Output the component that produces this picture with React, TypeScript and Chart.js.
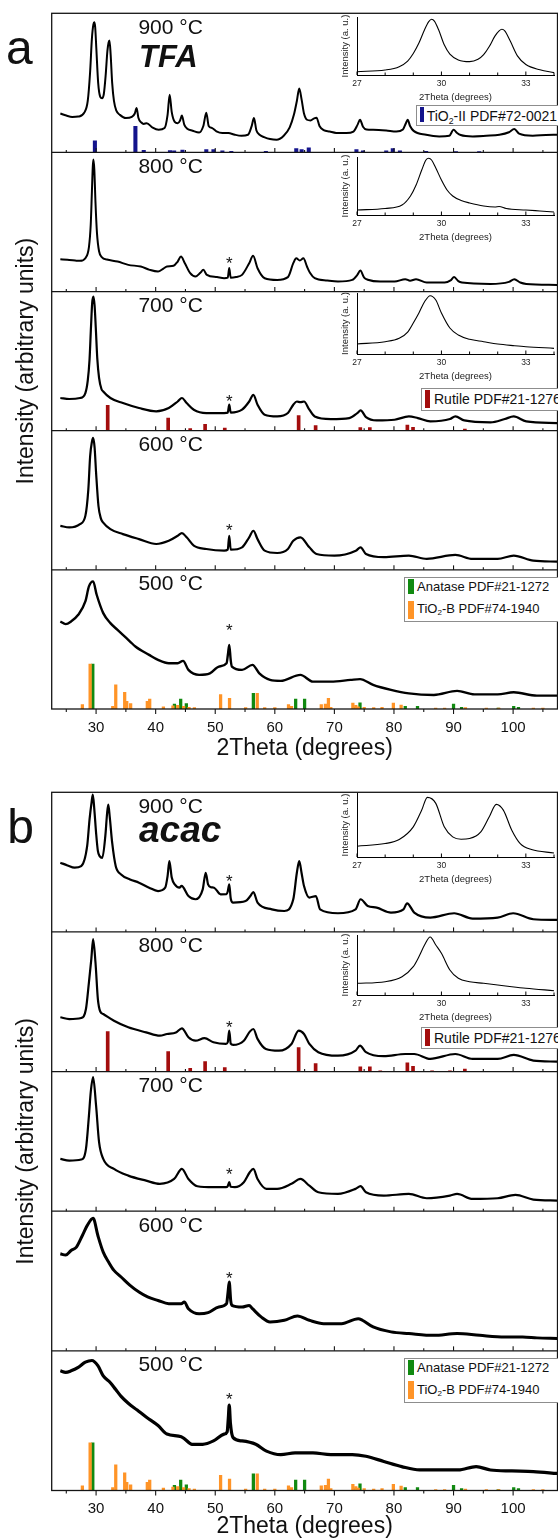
import React, { useEffect, useRef } from 'react';
import { Chart, registerables } from 'chart.js';
Chart.register(...registerables);

const FONT = "'Liberation Sans', Arial, Helvetica, sans-serif";

// ---------- axes ----------
const X_MIN = 22.55;
const X_MAX = 107.45;
const xMajorTicks = [30, 40, 50, 60, 70, 80, 90, 100];
const xMinorTicks = [25, 35, 45, 55, 65, 75, 85, 95, 105];
const temperatureLabels = ['500 °C', '600 °C', '700 °C', '800 °C', '900 °C'];
const insetTicks = [27, 28, 29, 30, 31, 32, 33, 34];
const insetLabelled = [27, 30, 33];

// ---------- TFA patterns (2theta, intensity in % of panel height) ----------
const tfa900: [number, number][] = [
  [24.0, 28], [25.0, 26.5], [26.0, 25.5], [27.0, 25.8], [28.0, 28.5], [28.6, 37], [29.0, 58], [29.3, 82], [29.55, 92], [29.7, 93.5],
  [29.85, 90], [30.05, 74], [30.35, 50], [30.7, 40], [31.0, 39], [31.3, 42], [31.6, 55], [31.9, 73], [32.1, 79], [32.25, 80.5],
  [32.45, 70], [32.7, 50], [33.0, 37], [33.4, 30], [34.0, 27], [35.0, 24.7], [36.0, 25.5], [36.5, 28], [36.8, 32], [37.1, 25],
  [37.6, 21.5], [38.0, 20.5], [38.5, 21], [39.5, 17.8], [40.5, 16.3], [41.5, 17.5], [42.0, 27], [42.35, 41.5], [42.7, 29], [43.2, 22],
  [43.7, 21], [44.1, 23], [44.4, 26.5], [44.8, 20], [45.3, 17], [46.2, 15.6], [47.3, 14.3], [48.0, 19], [48.5, 28.5], [48.9, 19],
  [49.5, 17.5], [50.2, 15.2], [51.2, 14], [52.2, 14], [53.3, 12.7], [54.4, 12], [55.5, 12.7], [56.1, 18.7], [56.5, 24.7], [56.9, 16],
  [57.5, 12.5], [58.2, 11], [59.2, 9.6], [60.3, 9.1], [61.5, 12], [62.5, 18], [63.2, 27], [63.7, 37], [64.1, 46], [64.5, 38],
  [64.9, 28], [65.4, 23.5], [66.0, 23], [66.6, 24.5], [67.0, 25], [67.5, 19], [68.2, 16], [69.2, 15], [70.3, 14], [72.0, 13.9],
  [73.2, 15], [73.9, 20], [74.3, 23.5], [74.8, 18.5], [75.4, 16.5], [76.5, 16.3], [78.7, 15.8], [80.4, 15.1], [81.5, 16.5], [82.0, 21],
  [82.3, 23.5], [82.7, 19], [83.3, 15.5], [85.4, 12.7], [87.6, 11.5], [89.3, 12], [90.0, 16.3], [90.6, 14], [91.2, 12.5], [93.2, 11.5],
  [95.5, 12], [97.7, 12.7], [99.3, 14.5], [100.2, 16.8], [101.0, 13.5], [103.3, 12], [105.5, 12.5], [107.4, 12.7],
];
const tfa800: [number, number][] = [
  [24.0, 23.3], [25.2, 22.8], [26.5, 22.3], [27.3, 22.1], [28.2, 24], [28.8, 32], [29.1, 48], [29.3, 72], [29.45, 90], [29.55, 95],
  [29.7, 88], [29.9, 64], [30.15, 42], [30.5, 29], [31.0, 24.5], [31.8, 23], [33.6, 21.6], [35.4, 19.2], [37.5, 18], [39.0, 15.6],
  [40.4, 14.4], [41.3, 16.5], [41.9, 18], [43.0, 18.5], [43.7, 21.6], [44.25, 25.2], [44.9, 20.4], [45.8, 13.2], [46.7, 10.8], [47.5, 13.5],
  [48.0, 15.6], [48.6, 12], [50.3, 10.4], [51.5, 9.6], [52.1, 10], [52.35, 17], [52.6, 10], [53.5, 10.5], [54.5, 12], [55.7, 20.4],
  [56.35, 25.7], [57.1, 16.8], [58.3, 9.6], [60.4, 8.4], [62.2, 10.4], [63.1, 20.4], [63.6, 24], [64.2, 22.3], [64.8, 24], [65.4, 18],
  [65.9, 13.5], [66.7, 9.6], [68.8, 7.9], [70.6, 7.2], [73.0, 8.4], [73.85, 12], [74.35, 15.1], [75.0, 10], [75.6, 8.5], [77.7, 7.2],
  [80.1, 7.2], [81.9, 8.9], [82.7, 7.8], [83.7, 8.9], [85.5, 6.5], [88.5, 6.5], [89.5, 8], [90.1, 10.4], [90.8, 7.5], [91.4, 6.5],
  [96.2, 5.5], [99.3, 7], [100.2, 8.9], [101.2, 6.5], [102.2, 5.5], [107.4, 4.8],
];
const tfa700: [number, number][] = [
  [24.0, 23.5], [25.5, 22.8], [27.3, 23.5], [28.2, 27.1], [28.6, 36], [28.9, 51], [29.15, 75], [29.35, 92], [29.55, 96.4], [29.75, 90],
  [29.95, 74], [30.2, 52], [30.5, 38], [30.9, 30], [31.2, 28.2], [32.4, 23.5], [34.5, 19.9], [37.2, 16.3], [40.1, 13.9], [42.2, 16.3],
  [43.7, 21], [44.4, 23.5], [45.2, 19.9], [46.4, 15.1], [48.5, 12.7], [51.5, 12.7], [52.1, 13], [52.35, 18.7], [52.6, 13], [54.5, 15.1],
  [55.7, 21], [56.4, 25.8], [57.1, 18.7], [58.3, 11.5], [60.4, 10.3], [62.2, 12.7], [63.1, 18.7], [63.7, 21], [64.3, 20.5], [64.9, 21],
  [65.8, 15.1], [66.7, 10.3], [69.4, 8.4], [72.5, 9.1], [73.85, 12.7], [74.4, 14.6], [75.3, 9.8], [77.1, 7.4], [80.1, 7.9], [82.5, 10.3],
  [84.0, 9.1], [86.1, 6.7], [89.4, 8.4], [90.3, 10.3], [91.8, 7.4], [96.2, 6], [98.6, 8.4], [100.1, 10.3], [102.2, 6.7], [107.4, 5.5],
];
const tfa600: [number, number][] = [
  [24.0, 31.6], [25.5, 30.5], [27.3, 32.9], [28.2, 38.8], [28.7, 57.9], [29.0, 81.6], [29.3, 92], [29.5, 94.8], [29.75, 88], [30.0, 69.8],
  [30.4, 45.9], [30.8, 37], [31.2, 34], [32.4, 29.3], [34.5, 25.7], [37.2, 22.1], [40.1, 18.6], [42.2, 20.9], [43.7, 24.5], [44.4, 26.4],
  [45.2, 23.4], [46.4, 17.4], [48.5, 15], [51.5, 13.8], [52.1, 14.5], [52.35, 24.5], [52.6, 14.5], [54.5, 16.2], [55.7, 23.4], [56.4, 28.1],
  [57.1, 22.1], [58.3, 13.8], [60.4, 12.1], [62.2, 15], [63.1, 20.9], [64.3, 23.4], [65.8, 16.2], [67.0, 11.4], [70.0, 10.2], [73.6, 13.8],
  [74.4, 16.2], [75.3, 11.4], [78.3, 9.1], [82.5, 10.2], [85.5, 7.9], [90.3, 10.7], [93.2, 7.9], [97.4, 7.9], [100.1, 10.2], [103.4, 6.6],
  [107.4, 5.9],
];
const tfa500: [number, number][] = [
  [24.0, 62.9], [24.9, 61], [25.8, 62.9], [27.0, 67.7], [28.2, 77.3], [28.8, 88.1], [29.5, 91.7], [30.1, 82.1], [31.2, 68.9], [32.4, 61.7],
  [33.6, 56.9], [34.5, 53.3], [35.7, 48.5], [36.6, 44.9], [38.9, 38.9], [40.4, 35.3], [42.2, 32.9], [43.7, 32.9], [44.6, 34.6], [45.5, 28.1],
  [47.3, 24.5], [49.1, 25.6], [50.6, 30.5], [51.9, 32.9], [52.15, 40], [52.35, 46.1], [52.6, 35], [52.8, 30.5], [54.5, 28.1], [56.25, 31.7],
  [57.4, 25.6], [59.2, 20.9], [61.0, 20.2], [64.3, 24.5], [66.4, 19.7], [69.4, 19.7], [72.7, 20.9], [74.3, 21.5], [76.5, 17.3], [79.5, 13.7],
  [82.5, 11.2], [86.7, 10.1], [90.6, 13], [93.5, 10.5], [97.4, 10.5], [100.1, 12], [104.0, 9.6], [107.4, 9.6],
];

// ---------- acac patterns ----------
const acac900: [number, number][] = [
  [24.0, 49.6], [25.2, 47.6], [26.4, 46], [27.5, 47.1], [28.5, 61.4], [28.9, 80.5], [29.25, 93], [29.45, 98.4], [29.7, 88], [30.0, 71],
  [30.3, 58], [30.6, 54.3], [31.05, 53.1], [31.55, 68.6], [31.85, 85], [32.05, 91.2], [32.3, 82], [32.7, 63.9], [33.3, 47.1], [34.2, 41.2],
  [35.7, 37.6], [37.2, 35.3], [38.9, 31.7], [40.4, 29.3], [41.6, 31.7], [42.0, 40], [42.3, 50.7], [42.7, 39], [43.2, 34], [44.0, 31.7],
  [44.35, 33], [45.5, 25.7], [46.7, 23.4], [47.9, 30.5], [48.4, 42.4], [48.8, 34], [49.3, 32], [49.8, 31.7], [50.9, 26.9], [51.9, 27],
  [52.1, 29], [52.35, 34.1], [52.6, 24], [53.0, 21], [55.1, 22.1], [55.9, 25.7], [56.4, 28.6], [57.1, 21], [59.5, 16.2], [61.6, 15],
  [63.1, 23.4], [63.7, 42.4], [64.1, 50.7], [64.5, 42], [64.9, 32.9], [65.8, 24.6], [66.9, 25.7], [67.6, 16.2], [70.6, 13.4], [73.55, 16.2],
  [74.4, 23.4], [75.6, 18.6], [77.1, 17.4], [79.5, 13.9], [81.6, 16.2], [82.2, 20.5], [83.4, 13.9], [86.1, 10.3], [90.1, 13.4], [93.2, 9.6],
  [97.4, 10.3], [100.0, 13.4], [103.4, 9.1], [107.4, 8.6],
];
const acac800: [number, number][] = [
  [24.0, 38.9], [25.5, 37.6], [27.5, 38.4], [28.3, 44.8], [28.8, 63.9], [29.2, 80.5], [29.5, 94.8], [29.9, 78.1], [30.3, 51.9], [30.7, 43],
  [31.2, 41.2], [33.0, 36.4], [35.4, 31.7], [38.4, 28.1], [40.7, 25.7], [41.9, 26.9], [43.4, 28], [44.4, 31], [45.5, 24.6], [46.7, 22.1],
  [48.2, 23.9], [49.7, 21], [51.8, 19.8], [52.1, 21], [52.35, 29.3], [52.6, 20], [53.0, 19.1], [54.8, 22.1], [55.8, 28.6], [56.4, 30.5],
  [57.1, 23.4], [58.5, 16.2], [60.7, 15], [62.8, 19.8], [64.0, 29.3], [64.9, 26.9], [65.8, 19.8], [67.3, 13.9], [70.6, 11.4], [73.55, 15],
  [74.3, 18.6], [75.3, 13.9], [78.3, 11], [81.9, 12.6], [83.4, 12.6], [86.1, 9.1], [90.3, 12.6], [93.2, 9.1], [97.4, 9.1], [100.1, 11.9],
  [103.4, 7.9], [107.4, 7.1],
];
const acac700: [number, number][] = [
  [24.0, 37.5], [25.5, 36.2], [27.5, 37], [28.3, 44.6], [28.8, 68.5], [29.1, 85.2], [29.5, 96], [30.0, 75.6], [30.5, 49.4], [31.2, 37.5],
  [33.0, 30.3], [35.4, 25.5], [38.4, 21.9], [40.7, 19.6], [43.1, 23.1], [44.4, 30.3], [45.5, 23.1], [47.0, 17.9], [49.7, 17.2], [51.8, 17.2],
  [52.1, 18], [52.35, 20.8], [52.6, 17.5], [53.3, 17.2], [54.8, 20.8], [55.8, 27.9], [56.4, 30.3], [57.1, 23.1], [58.6, 16], [60.4, 16],
  [62.8, 19.6], [64.3, 23.1], [65.8, 18.3], [67.3, 13.6], [70.6, 12.4], [73.55, 16], [74.4, 17.9], [75.3, 13.6], [78.3, 11.2], [82.5, 12.4],
  [85.5, 9.3], [89.4, 11.2], [90.6, 12.4], [93.2, 8.8], [97.4, 9.3], [100.4, 11.7], [103.4, 8.3], [107.4, 7.6],
];
const acac600: [number, number][] = [
  [24.0, 69.5], [24.9, 68.6], [25.8, 71.9], [26.7, 74.3], [27.7, 82.6], [28.5, 89.7], [29.5, 95], [30.3, 82.6], [31.2, 70.7], [32.1, 63.6],
  [33.0, 57.6], [34.2, 52.9], [35.7, 46.9], [37.2, 42.1], [38.65, 38.6], [40.4, 36.1], [42.2, 33.8], [44.3, 33.8], [44.8, 35], [45.5, 30.2],
  [47.3, 26.6], [48.8, 27.4], [50.6, 31.4], [51.9, 33.8], [52.15, 42], [52.35, 49.3], [52.6, 36], [52.8, 32.6], [54.5, 31.4], [55.7, 32.5],
  [56.25, 30.2], [57.7, 24.3], [59.2, 20.7], [61.6, 21.9], [63.8, 25], [65.8, 21.9], [68.2, 19.5], [71.2, 19.5], [74.0, 23], [74.7, 21.9],
  [76.5, 17.1], [79.5, 13.6], [82.5, 12.4], [86.7, 11.1], [90.6, 12.4], [94.4, 11.1], [98.6, 10], [101.6, 10], [104.0, 9.3], [107.4, 8.8],
];
const acac500: [number, number][] = [
  [24.0, 85.7], [24.9, 84.6], [25.8, 85.7], [27.0, 88.2], [28.2, 91.9], [29.3, 93.1], [30.3, 89.4], [31.2, 82.1], [32.4, 77.2], [33.3, 72.3],
  [34.2, 67.4], [35.4, 62.5], [36.9, 57.6], [38.4, 52.6], [40.4, 46.5], [41.9, 40.4], [44.3, 38.5], [44.9, 36.8], [46.1, 33.1], [47.9, 33.1],
  [49.7, 35.5], [51.5, 40.4], [52.0, 42], [52.2, 52], [52.35, 61.2], [52.55, 48], [53.0, 37.9], [54.5, 35.5], [56.8, 33.1], [58.6, 28.2],
  [61.0, 25.7], [63.4, 26.9], [66.4, 26.9], [69.4, 25.7], [73.0, 25.7], [75.3, 24.5], [78.3, 20.8], [81.3, 17.1], [84.3, 14.7], [87.3, 14.7],
  [90.8, 14.7], [93.8, 17.1], [96.2, 14.7], [99.8, 14], [103.4, 13.5], [107.4, 12.2],
];

// ---------- reference patterns (position, relative intensity %) ----------
const tio2IIPos = [29.8, 36.6, 38.0, 42.4, 43.1, 44.5, 48.5, 49.7, 51.2, 52.7, 58.5, 63.6, 64.5, 65.7, 73.7, 74.8, 78.7, 79.8, 81.0, 85.4, 90.4, 94.3];
const tio2IIInt = [45, 100, 8, 7, 6, 9, 11, 11, 6, 4, 4, 15, 11, 18, 11, 6, 6, 15, 6, 4, 3, 3];
const rutilePos = [31.95, 42.1, 45.8, 48.3, 51.6, 64.0, 66.85, 74.35, 75.95, 77.7, 82.25, 83.2, 86.4, 89.4, 91.9];
const rutileInt = [100, 50, 8, 25, 10, 60, 20, 12, 12, 2, 22, 13, 2, 2, 6];
const anatasePos = [29.45, 43.15, 44.2, 45.15, 56.4, 63.5, 65.0, 73.6, 74.3, 81.9, 83.95, 90.0, 91.35, 97.5, 100.1, 100.9];
const anataseInt = [100, 11, 22, 12, 35, 22, 22, 4, 14, 6, 6, 11, 4, 2, 6, 4];
const tio2BPos = [27.7, 29.0, 32.8, 33.3, 34.8, 35.15, 35.8, 38.6, 39.0, 41.3, 42.9, 43.7, 44.7, 45.6, 46.5, 50.9, 52.4, 55.1, 57.05, 58.3,
  60.0, 62.3, 62.8, 67.8, 68.5, 69.0, 69.4, 73.1, 73.6, 74.0, 75.0, 76.6, 78.0, 79.9, 81.2, 87.0, 88.5, 92.0, 95.5, 97.6, 103.4, 105.0];
const tio2BInt = [10, 100, 6, 54, 37, 17, 12, 17, 22, 5, 7, 8, 6, 4, 3, 32, 24, 3, 35, 3,
  3, 10, 6, 10, 11, 24, 4, 13, 8, 5, 4, 3, 4, 13, 9, 2, 2, 3, 2, 2, 2, 2];

// ---------- insets (2theta, intensity % of inset height) ----------
const insetA900: [number, number][] = [
  [27, 5.7], [28, 8.6], [28.5, 14.3], [28.8, 24], [29.0, 37], [29.2, 55], [29.4, 78], [29.55, 92], [29.65, 96], [29.75, 93],
  [29.9, 78], [30.1, 52], [30.3, 36], [30.6, 26], [31.0, 23], [31.3, 27], [31.5, 35], [31.7, 49], [31.9, 67], [32.05, 76],
  [32.15, 78.8], [32.25, 76], [32.45, 58], [32.7, 33], [33.0, 18], [33.5, 9], [34.0, 4],
];
const insetA800: [number, number][] = [
  [27, 8.6], [28, 11.2], [28.6, 17.2], [28.9, 32.8], [29.1, 51.7], [29.3, 77.6], [29.45, 94.8], [29.55, 97.8], [29.65, 94.8], [29.8, 81],
  [30.0, 60.3], [30.2, 43.1], [30.4, 32.8], [30.7, 25], [31.0, 20.7], [31.5, 15.5], [31.9, 13.8], [32.05, 14.7], [32.3, 11.2], [33.0, 8.6],
  [33.5, 6.9], [34.0, 5.2],
];
const insetA700: [number, number][] = [
  [27, 16.4], [28, 20.2], [28.5, 25.7], [28.8, 36], [29.0, 50.8], [29.2, 67.2], [29.4, 85.7], [29.6, 95.6], [29.8, 88.5], [30.0, 67.2],
  [30.3, 42.6], [30.6, 31.1], [31.0, 24.1], [31.5, 20.2], [32.0, 16.4], [32.6, 13.6], [33.0, 12], [34.0, 9.3],
];
const insetB900: [number, number][] = [
  [27, 16.8], [28, 21], [28.5, 27.3], [29.0, 47.1], [29.3, 73.3], [29.5, 93.2], [29.8, 83.8], [30.1, 47.1], [30.4, 31.4], [30.7, 27.8],
  [31.0, 28.9], [31.4, 39.2], [31.7, 62.8], [31.95, 82.3], [32.2, 73.3], [32.5, 41.9], [32.8, 21], [33.2, 11.6], [34.0, 6.3],
];
const insetB800: [number, number][] = [
  [27, 19.5], [28, 22.2], [28.6, 30.5], [29.0, 47.2], [29.2, 63.8], [29.4, 83.3], [29.6, 96.7], [29.8, 83.3], [30.0, 69.5], [30.3, 41.7],
  [30.6, 27.8], [31.0, 22.2], [31.5, 19.5], [32.0, 16.7], [32.5, 13.8], [33.0, 11.2], [34.0, 7.2],
];

// star (impurity) marker heights per temperature, bottom to top (null = none)
const starsTFA = [59.3, 31.6, 24.2, 23.5, null];
const starsAcac = [68.6, 54.7, 29.1, 34.8, 38.9];

type Pt = [number, number];
type BarSpec = { pos: number[]; int: number[]; color: string; level: number; scale: number; width: number };
type TextSpec = { text: string; x: number; y: number; font: string; align?: string; dy?: number };

function MainPanel(props: {
  top: number; height: number; padTop: number; axisHeight: number; labelPad: number; titlePad: number;
  series: Pt[][]; widths: number[]; bars: BarSpec[]; stars: (number | null)[]; name: string; nameFont: string; nameY: number;
}) {
  const ref = useRef<HTMLCanvasElement>(null);
  useEffect(() => {
    const datasets: any[] = [];
    props.bars.forEach((b) => {
      datasets.push({
        type: 'bar',
        data: b.pos.map((x, j) => ({ x, y: [b.level * 100, b.level * 100 + b.int[j] * b.scale] })),
        backgroundColor: b.color,
        borderWidth: 0,
        barThickness: b.width,
        grouped: false,
        order: 2,
      });
    });
    props.series.forEach((s, i) => {
      datasets.push({
        type: 'line',
        data: s.map(([x, y]) => ({ x, y: i * 100 + y })),
        borderColor: '#000',
        borderWidth: props.widths[i],
        pointRadius: 0,
        fill: false,
        cubicInterpolationMode: 'monotone',
        order: 1,
      });
    });
    const texts: TextSpec[] = [];
    temperatureLabels.forEach((t, i) => texts.push({ text: t, x: 37.1, y: i * 100 + 85.3, font: `21px ${FONT}` }));
    texts.push({ text: props.name, x: 37.2, y: 400 + props.nameY, font: props.nameFont });
    props.stars.forEach((s, i) => {
      if (s !== null) texts.push({ text: '*', x: 52.35, y: i * 100 + s, font: `17px ${FONT}`, align: 'center', dy: 9.8 });
    });

    const framePlugin = {
      id: 'xrdFrame',
      afterDatasetsDraw(chart: any) {
        const { ctx, chartArea: a, scales } = chart;
        const xs = scales.x;
        const ys = scales.y;
        ctx.save();
        ctx.strokeStyle = '#151515';
        ctx.lineWidth = 1.3;
        ctx.strokeRect(a.left, a.top, a.right - a.left, a.bottom - a.top);
        for (let lv = 1; lv < 5; lv++) {
          const py = ys.getPixelForValue(lv * 100);
          ctx.beginPath();
          ctx.moveTo(a.left, py);
          ctx.lineTo(a.right, py);
          ctx.stroke();
        }
        ctx.lineWidth = 1.1;
        for (let lv = 0; lv < 5; lv++) {
          const py = ys.getPixelForValue(lv * 100);
          const dir = lv === 0 ? 1 : -1;
          const draw = (v: number, len: number) => {
            const px = xs.getPixelForValue(v);
            ctx.beginPath();
            ctx.moveTo(px, py);
            ctx.lineTo(px, py + dir * len);
            ctx.stroke();
          };
          xMajorTicks.forEach((v) => draw(v, lv === 0 ? 5 : 4.5));
          xMinorTicks.forEach((v) => draw(v, lv === 0 ? 3 : 2.5));
        }
        ctx.fillStyle = '#111';
        ctx.textBaseline = 'alphabetic';
        texts.forEach((t) => {
          ctx.font = t.font;
          ctx.textAlign = t.align || 'left';
          ctx.fillText(t.text, xs.getPixelForValue(t.x), ys.getPixelForValue(t.y) + (t.dy || 0));
        });
        ctx.restore();
      },
    };

    const chart = new Chart(ref.current as HTMLCanvasElement, {
      type: 'line',
      data: { datasets },
      options: {
        responsive: false,
        animation: false,
        devicePixelRatio: 1,
        events: [],
        layout: { padding: { top: props.padTop, right: 0.5, left: 0, bottom: 0 } },
        plugins: { legend: { display: false }, tooltip: { enabled: false } },
        scales: {
          x: {
            type: 'linear',
            min: X_MIN,
            max: X_MAX,
            offset: false,
            afterBuildTicks: (s: any) => { s.ticks = xMajorTicks.map((v) => ({ value: v })); },
            ticks: { font: { family: FONT, size: 15 }, color: '#111', padding: props.labelPad, maxRotation: 0, autoSkip: false, callback: (v: any) => String(v) },
            grid: { display: false, drawTicks: false },
            border: { display: false },
            title: { display: true, text: '2Theta (degrees)', font: { family: FONT, size: 23, lineHeight: 1 }, color: '#111', padding: { top: 0, bottom: props.titlePad } },
            afterFit: (s: any) => { s.height = props.axisHeight; },
          },
          y: {
            type: 'linear',
            min: 0,
            max: 500,
            ticks: { display: false },
            grid: { display: false, drawTicks: false },
            border: { display: false },
            title: { display: true, text: 'Intensity (arbitrary units)', font: { family: FONT, size: 23, lineHeight: 1 }, color: '#111', padding: { top: 15.2, bottom: 0 } },
            afterFit: (s: any) => { s.width = 51.7; },
          },
        },
      } as any,
      plugins: [framePlugin],
    });
    return () => chart.destroy();
  }, []);
  return (
    <canvas ref={ref} width={558} height={props.height}
      style={{ position: 'absolute', left: 0, top: props.top, width: 558, height: props.height }} />
  );
}

function Inset(props: { areaTop: number; areaBottom: number; data: Pt[] }) {
  const ref = useRef<HTMLCanvasElement>(null);
  const padTop = 4;
  const axisH = 30;
  const canvasTop = props.areaTop - padTop;
  const h = Math.round(props.areaBottom - props.areaTop + padTop + axisH);
  useEffect(() => {
    const tickPlugin = {
      id: 'insetTicks',
      afterDatasetsDraw(chart: any) {
        const { ctx, chartArea: a, scales } = chart;
        ctx.save();
        ctx.strokeStyle = '#000';
        ctx.lineWidth = 1;
        insetTicks.forEach((v) => {
          const px = scales.x.getPixelForValue(v);
          const len = insetLabelled.includes(v) ? 3.5 : 2.5;
          ctx.beginPath();
          ctx.moveTo(px, a.bottom);
          ctx.lineTo(px, a.bottom - len);
          ctx.stroke();
        });
        ctx.restore();
      },
    };
    const chart = new Chart(ref.current as HTMLCanvasElement, {
      type: 'line',
      data: {
        datasets: [{
          data: props.data.map(([x, y]) => ({ x, y })),
          borderColor: '#000', borderWidth: 1.1, pointRadius: 0, fill: false, cubicInterpolationMode: 'monotone',
        }],
      },
      options: {
        responsive: false,
        animation: false,
        devicePixelRatio: 1,
        events: [],
        layout: { padding: { top: padTop, right: 0.5, left: 0, bottom: 0 } },
        plugins: { legend: { display: false }, tooltip: { enabled: false } },
        scales: {
          x: {
            type: 'linear', min: 27, max: 34, offset: false,
            afterBuildTicks: (s: any) => { s.ticks = insetTicks.map((v) => ({ value: v })); },
            ticks: { font: { family: FONT, size: 8.5 }, color: '#222', padding: 4, maxRotation: 0, autoSkip: false,
              callback: (v: any) => (insetLabelled.includes(v) ? String(v) : '') },
            grid: { display: false, drawTicks: false },
            border: { display: true, color: '#000', width: 1 },
            title: { display: true, text: '2Theta (degrees)', font: { family: FONT, size: 9.5, lineHeight: 1 }, color: '#222', padding: { top: 0, bottom: 3.2 } },
            afterFit: (s: any) => { s.height = axisH; },
          },
          y: {
            type: 'linear', min: 0, max: 100,
            ticks: { display: false },
            grid: { display: false, drawTicks: false },
            border: { display: true, color: '#000', width: 1 },
            title: { display: true, text: 'Intensity (a. u.)', font: { family: FONT, size: 9.5, lineHeight: 1 }, color: '#222', padding: { top: 14.2, bottom: 0 } },
            afterFit: (s: any) => { s.width = 31; },
          },
        },
      } as any,
      plugins: [tickPlugin],
    });
    return () => chart.destroy();
  }, []);
  return (
    <canvas ref={ref} width={232} height={h}
      style={{ position: 'absolute', left: 326, top: canvasTop, width: 232, height: h }} />
  );
}

const sub = (t: string) => <span style={{ fontSize: '0.62em', verticalAlign: '-0.3em', lineHeight: 0 }}>{t}</span>;

function LegendBox(props: { left: number; top: number; height: number; fontSize: number;
  items: { color: string; label: any; swLeft: number; swTop: number; swW: number; swH: number; textLeft: number; textCenter: number }[] }) {
  return (
    <div style={{ position: 'absolute', left: props.left, top: props.top, width: 600 - props.left, height: props.height,
      border: '1px solid #8d8d8d', background: '#fff', boxSizing: 'border-box' }}>
      {props.items.map((it, k) => (
        <React.Fragment key={k}>
          <div style={{ position: 'absolute', left: it.swLeft - props.left - 1, top: it.swTop - props.top - 1, width: it.swW, height: it.swH, background: it.color }} />
          <div style={{ position: 'absolute', left: it.textLeft - props.left - 1, top: it.textCenter - props.top - 1 - props.fontSize * 0.5,
            fontFamily: FONT, fontSize: props.fontSize, lineHeight: `${props.fontSize}px`, color: '#111', whiteSpace: 'nowrap' }}>{it.label}</div>
        </React.Fragment>
      ))}
    </div>
  );
}

const NAVY = '#14148c';
const RED = '#a30d0d';
const GREEN = '#118a11';
const ORANGE = '#ff9427';

export default function App() {
  const barsA: BarSpec[] = [
    { pos: tio2IIPos, int: tio2IIInt, color: NAVY, level: 4, scale: 0.187, width: 3.4 },
    { pos: rutilePos, int: rutileInt, color: RED, level: 2, scale: 0.182, width: 3 },
    { pos: tio2BPos, int: tio2BInt, color: ORANGE, level: 0, scale: 0.322, width: 2.6 },
    { pos: anatasePos, int: anataseInt, color: GREEN, level: 0, scale: 0.322, width: 2.6 },
  ];
  const barsB: BarSpec[] = [
    { pos: rutilePos, int: rutileInt, color: RED, level: 3, scale: 0.286, width: 3 },
    { pos: tio2BPos, int: tio2BInt, color: ORANGE, level: 0, scale: 0.342, width: 2.6 },
    { pos: anatasePos, int: anataseInt, color: GREEN, level: 0, scale: 0.342, width: 2.6 },
  ];
  const anataseItems = (top: number) => [
    { color: GREEN, label: 'Anatase PDF#21-1272', swLeft: 407.5, swTop: top + 2, swW: 6, swH: 15, textLeft: 417, textCenter: top + 9.4 },
    { color: ORANGE, label: <span>TiO{sub('2')}-B PDF#74-1940</span>, swLeft: 407.5, swTop: top + 23.7, swW: 6, swH: 18, textLeft: 417, textCenter: top + 31.5 },
  ];
  const rutileItems = (top: number) => [
    { color: RED, label: 'Rutile PDF#21-1276', swLeft: 424.5, swTop: top + 2, swW: 5.3, swH: 17.3, textLeft: 434, textCenter: top + 11 },
  ];
  return (
    <div style={{ position: 'absolute', left: 0, top: 0, width: 558, height: 1539, background: '#fff', overflow: 'hidden' }}>
      <MainPanel top={0} height={780} padTop={13.3} axisHeight={71} labelPad={9.5} titlePad={20}
        series={[tfa500, tfa600, tfa700, tfa800, tfa900]} widths={[2.4, 2.2, 2.2, 2, 2]}
        bars={barsA} stars={starsTFA} name="TFA" nameFont={`italic bold 31px ${FONT}`} nameY={61.6} />
      <MainPanel top={780} height={759} padTop={12.3} axisHeight={48.5} labelPad={9.5} titlePad={0.5}
        series={[acac500, acac600, acac700, acac800, acac900]} widths={[3.2, 3, 2.2, 2.2, 2.2]}
        bars={barsB} stars={starsAcac} name="acac" nameFont={`italic bold 37px ${FONT}`} nameY={64.5} />

      <Inset areaTop={17} areaBottom={75} data={insetA900} />
      <Inset areaTop={157} areaBottom={215} data={insetA800} />
      <Inset areaTop={293} areaBottom={354} data={insetA700} />
      <Inset areaTop={793} areaBottom={856.7} data={insetB900} />
      <Inset areaTop={935} areaBottom={995} data={insetB800} />

      <LegendBox left={416} top={105} height={20.5} fontSize={14}
        items={[{ color: NAVY, label: <span>TiO{sub('2')}-II PDF#72-0021</span>, swLeft: 420, swTop: 107, swW: 4.3, swH: 15, textLeft: 426.7, textCenter: 115.5 }]} />
      <LegendBox left={421} top={388.3} height={22.6} fontSize={14} items={rutileItems(388.3)} />
      <LegendBox left={421} top={1026.7} height={22.6} fontSize={14} items={rutileItems(1026.7)} />
      <LegendBox left={404} top={577.3} height={45} fontSize={13} items={anataseItems(577.3)} />
      <LegendBox left={404} top={1357.7} height={45} fontSize={13} items={anataseItems(1357.7)} />

      <div style={{ position: 'absolute', left: 6, top: 24.4, fontFamily: FONT, fontSize: 48, lineHeight: '48px', color: '#111' }}>a</div>
      <div style={{ position: 'absolute', left: 7.3, top: 802.7, fontFamily: FONT, fontSize: 48, lineHeight: '48px', color: '#111' }}>b</div>
    </div>
  );
}
